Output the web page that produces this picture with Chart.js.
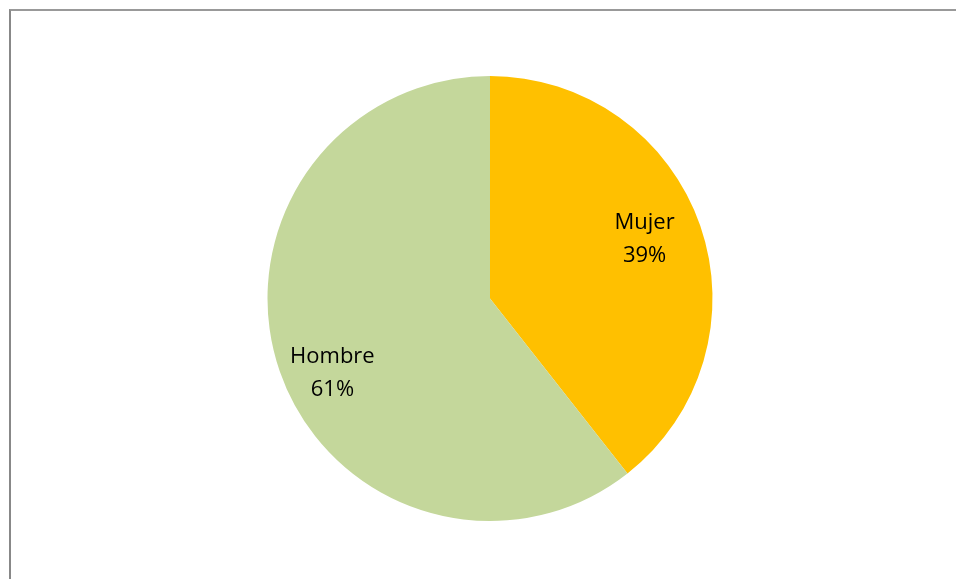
<!DOCTYPE html>
<html>
<head>
<meta charset="utf-8">
<script src="https://cdn.jsdelivr.net/npm/chart.js@4.4.1/dist/chart.umd.min.js"></script>
<style>
  html, body { margin: 0; padding: 0; background: #fff; overflow: hidden; }
  #wrap { position: absolute; left: 0; top: 0; width: 956px; height: 579px; }
  #frame { position: absolute; left: 9px; top: 9px; width: 1000px; height: 700px;
           border-left: 2px solid #888; border-top: 2px solid #999; }
  canvas { position: absolute; left: 0; top: 0; }
</style>
</head>
<body>
<div id="wrap">
  <div id="frame"></div>
  <canvas id="myChart" width="956" height="579"></canvas>
</div>
<script>
const categorias = ['Mujer', 'Hombre'];
const porcentajes = [39.4, 60.6];
const colores = ['#FFC000', '#C4D79B'];

// etiquetas dentro de cada rebanada (nombre + %)
const pieLabels = {
  id: 'pieLabels',
  afterDatasetsDraw(chart, args, opts) {
    const c = chart.ctx;
    const meta = chart.getDatasetMeta(0);
    c.save();
    c.font = opts.font;
    c.fillStyle = '#000';
    c.textAlign = 'center';
    c.textBaseline = 'middle';
    meta.data.forEach((arc, i) => {
      const p = arc.getProps(['x', 'y', 'startAngle', 'endAngle', 'outerRadius'], true);
      const mid = (p.startAngle + p.endAngle) / 2;
      const r = p.outerRadius * opts.factor;
      const off = opts.offsets[i] || {dx: 0, dy: 0};
      const x = p.x + Math.cos(mid) * r + off.dx;
      const y = p.y + Math.sin(mid) * r + off.dy;
      c.fillText(chart.data.labels[i], x, y - opts.lineH / 2);
      c.fillText(Math.round(chart.data.datasets[0].data[i]) + '%', x, y + opts.lineH / 2);
    });
    c.restore();
  }
};

const ctx = document.getElementById('myChart').getContext('2d');
const myChart = new Chart(ctx, {
  type: 'pie',
  data: {
    labels: categorias,
    datasets: [{
      data: porcentajes,
      backgroundColor: colores,
      borderWidth: 0
    }]
  },
  options: {
    responsive: false,
    animation: false,
    layout: { padding: { left: 24, right: 0, top: 76, bottom: 58 } },
    plugins: {
      legend: { display: false },
      tooltip: { enabled: false },
      pieLabels: {
        font: '22px "Open Sans", sans-serif',
        factor: 0.74,
        lineH: 33,
        offsets: [{dx: -1, dy: -5}, {dx: -2, dy: 21}]
      }
    }
  },
  plugins: [pieLabels]
});
</script>
</body>
</html>
